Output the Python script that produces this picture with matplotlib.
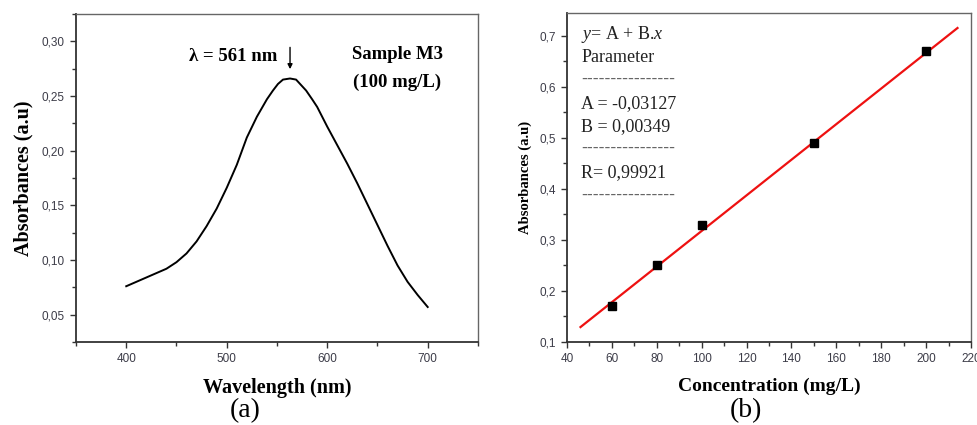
import numpy as np
import matplotlib
matplotlib.use("Agg")
import matplotlib.pyplot as plt
from matplotlib.ticker import MultipleLocator, FuncFormatter

plt.rcParams.update({
    "font.family": "Liberation Serif",
    "mathtext.fontset": "custom",
    "mathtext.it": "Liberation Serif:italic",
    "mathtext.rm": "Liberation Serif",
})

# (a) UV-vis spectrum, sample M3 (100 mg/L)
wavelength = [400, 410, 420, 430, 440, 450, 460, 470, 480, 490, 500, 510, 520,
              530, 540, 546, 551, 556, 563, 569, 574, 579, 585, 590, 600, 610,
              620, 630, 640, 650, 660, 670, 680, 690, 700]
absorbance = [0.076, 0.080, 0.084, 0.088, 0.092, 0.098, 0.106, 0.117, 0.131,
              0.147, 0.166, 0.187, 0.212, 0.231, 0.247, 0.255, 0.261, 0.265,
              0.266, 0.265, 0.260, 0.255, 0.247, 0.240, 0.222, 0.205, 0.188,
              0.170, 0.151, 0.132, 0.113, 0.095, 0.080, 0.068, 0.057]
peak_nm = 561

# (b) calibration
concentration = [60, 80, 100, 150, 200]
abs_calib = [0.17, 0.25, 0.33, 0.49, 0.67]
fit_A = -0.03127
fit_B = 0.00349
fit_R = 0.99921
fit_range = [46, 214]

TICK_COLOR = "#3c3c48"


def comma_fmt(decimals):
    return FuncFormatter(lambda v, p: f"{v:.{decimals}f}".replace(".", ","))


def style_axes(ax):
    for s in ["left", "bottom"]:
        ax.spines[s].set_color("#333333")
        ax.spines[s].set_linewidth(1.3)
    for s in ["top", "right"]:
        ax.spines[s].set_color("#666666")
        ax.spines[s].set_linewidth(1.0)
    ax.tick_params(which="major", direction="out", length=4, width=1.0,
                   color="#333333", labelsize=8.5, labelcolor=TICK_COLOR, pad=4)
    ax.tick_params(which="minor", direction="out", length=3, width=1.0,
                   color="#333333")
    for lab in ax.get_xticklabels() + ax.get_yticklabels():
        lab.set_fontfamily("Liberation Sans")


fig = plt.figure(figsize=(9.78, 4.25), dpi=100)
ax1 = fig.add_axes([0.0777, 0.1953, 0.411, 0.7718])
ax2 = fig.add_axes([0.5798, 0.1953, 0.413, 0.7741])

# ---- panel (a)
ax1.plot(wavelength, absorbance, color="black", lw=1.4)
ax1.set_xlim(350, 750)
ax1.set_ylim(0.025, 0.325)
ax1.xaxis.set_major_locator(MultipleLocator(100))
ax1.xaxis.set_minor_locator(MultipleLocator(50))
ax1.yaxis.set_major_locator(MultipleLocator(0.05))
ax1.yaxis.set_minor_locator(MultipleLocator(0.025))
ax1.yaxis.set_major_formatter(comma_fmt(2))
ax1.set_xlabel("Wavelength (nm)", fontsize=14.5, fontweight="bold", labelpad=9)
ax1.set_ylabel("Absorbances (a.u)", fontsize=14.5, fontweight="bold", labelpad=6)
style_axes(ax1)

ax1.annotate("", xy=(peak_nm + 2, 0.272), xytext=(peak_nm + 2, 0.297),
             arrowprops=dict(arrowstyle="-|>", color="black", lw=1.0,
                             mutation_scale=7))
ax1.text(peak_nm - 11, 0.2865, f"λ = {peak_nm} nm", fontsize=13.5,
         fontweight="bold", ha="right", va="center")
ax1.text(0.80, 0.875, "Sample M3", transform=ax1.transAxes,
         fontsize=13.5, fontweight="bold", ha="center", va="center")
ax1.text(0.80, 0.793, "(100 mg/L)", transform=ax1.transAxes,
         fontsize=13.5, fontweight="bold", ha="center", va="center")

# ---- panel (b)
xfit = np.array(fit_range)
ax2.plot(xfit, fit_A + fit_B * xfit, color="#ee1111", lw=1.6, zorder=2)
ax2.plot(concentration, abs_calib, ls="none", marker="s", ms=6,
         color="black", zorder=3)
ax2.set_xlim(40, 220)
ax2.set_ylim(0.1, 0.745)
ax2.xaxis.set_major_locator(MultipleLocator(20))
ax2.xaxis.set_minor_locator(MultipleLocator(10))
ax2.yaxis.set_major_locator(MultipleLocator(0.1))
ax2.yaxis.set_minor_locator(MultipleLocator(0.05))
ax2.yaxis.set_major_formatter(comma_fmt(1))
ax2.set_xlabel("Concentration (mg/L)", fontsize=14, fontweight="bold",
               labelpad=9)
ax2.set_ylabel("Absorbances (a.u)", fontsize=10.5, fontweight="bold", labelpad=5)
style_axes(ax2)

dash = "-" * 16
box_lines = ["$y$= A + B.$x$", "Parameter", dash,
             f"A = {fit_A:.5f}".replace(".", ","),
             f"B = {fit_B:.5f}".replace(".", ","), dash,
             f"R= {fit_R:.5f}".replace(".", ","), dash]
for i, line in enumerate(box_lines):
    if line == dash:
        ax2.text(0.035, 0.925 - i * 0.0702, line, transform=ax2.transAxes,
                 fontsize=13, ha="left", va="baseline", color="#666666",
                 family="Liberation Sans")
    else:
        ax2.text(0.035, 0.922 - i * 0.0702, line, transform=ax2.transAxes,
                 fontsize=13, ha="left", va="baseline", color="#222222")

# captions
fig.text(0.251, 0.033, "(a)", fontsize=20, ha="center", va="center")
fig.text(0.763, 0.033, "(b)", fontsize=20, ha="center", va="center")

fig.savefig("out.png", dpi=100)
